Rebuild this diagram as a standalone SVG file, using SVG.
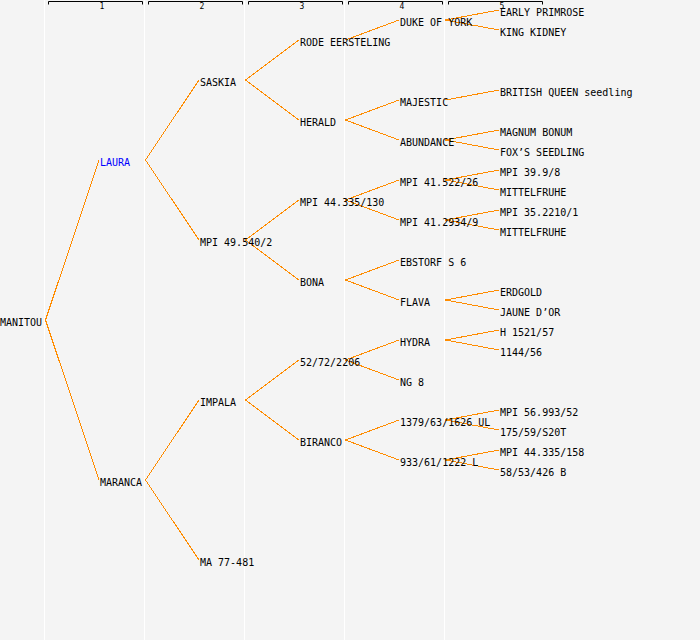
<svg xmlns="http://www.w3.org/2000/svg" width="700" height="640" viewBox="0 0 700 640">
<style>
.bg{fill:#f4f4f4}
.grid{stroke:#ffffff;stroke-width:1}
.br{fill:none;stroke:#000;stroke-width:1}
.hn{font-family:"DejaVu Sans Mono","Liberation Mono",monospace;font-size:8px;fill:#000;text-anchor:middle}
text.n{font-family:"DejaVu Sans Mono","Liberation Mono",monospace;font-size:10px;fill:#000}
text.blue{fill:#0000ff}
.c path{fill:none;stroke:#ff8c00;stroke-width:1;shape-rendering:crispEdges}
</style>
<rect class="bg" x="0" y="0" width="700" height="640"/>
<g id="grid">
<line class="grid" x1="44.5" y1="0" x2="44.5" y2="640"/>
<line class="grid" x1="144.5" y1="0" x2="144.5" y2="640"/>
<line class="grid" x1="244.5" y1="0" x2="244.5" y2="640"/>
<line class="grid" x1="344.5" y1="0" x2="344.5" y2="640"/>
<line class="grid" x1="444.5" y1="0" x2="444.5" y2="640"/>
</g>
<g id="header">
<path class="br" d="M48.5,4.5V1.5H142.5V4.5"/>
<path class="br" d="M148.5,4.5V1.5H242.5V4.5"/>
<path class="br" d="M248.5,4.5V1.5H342.5V4.5"/>
<path class="br" d="M348.5,4.5V1.5H442.5V4.5"/>
<path class="br" d="M448.5,4.5V1.5H542.5V4.5"/>
<text class="hn" x="102" y="8.5">1</text>
<text class="hn" x="202" y="8.5">2</text>
<text class="hn" x="302" y="8.5">3</text>
<text class="hn" x="402" y="8.5">4</text>
<text class="hn" x="502" y="8.5">5</text>
</g>
<g id="connectors" class="c">
<path d="M99,160L45.5,320L99,480"/>
<path d="M199,80L145.5,160L199,240"/>
<path d="M199,400L145.5,480L199,560"/>
<path d="M299,40L245.5,80L299,120"/>
<path d="M299,200L245.5,240L299,280"/>
<path d="M299,360L245.5,400L299,440"/>
<path d="M399,20L345.5,40"/>
<path d="M399,100L345.5,120L399,140"/>
<path d="M399,180L345.5,200L399,220"/>
<path d="M399,260L345.5,280L399,300"/>
<path d="M399,340L345.5,360L399,380"/>
<path d="M399,420L345.5,440L399,460"/>
<path d="M499,10L445.5,20L499,30"/>
<path d="M499,90L445.5,100"/>
<path d="M499,130L445.5,140L499,150"/>
<path d="M499,170L445.5,180L499,190"/>
<path d="M499,210L445.5,220L499,230"/>
<path d="M499,290L445.5,300L499,310"/>
<path d="M499,330L445.5,340L499,350"/>
<path d="M499,410L445.5,420L499,430"/>
<path d="M499,450L445.5,460L499,470"/>
</g>
<g id="n-manitou"><text class="n" x="0" y="326">MANITOU</text></g>
<g id="n-laura"><text class="n blue" x="100" y="166">LAURA</text></g>
<g id="n-maranca"><text class="n" x="100" y="486">MARANCA</text></g>
<g id="n-saskia"><text class="n" x="200" y="86">SASKIA</text></g>
<g id="n-mpi49540"><text class="n" x="200" y="246">MPI 49.540/2</text></g>
<g id="n-impala"><text class="n" x="200" y="406">IMPALA</text></g>
<g id="n-ma77481"><text class="n" x="200" y="566">MA 77-481</text></g>
<g id="n-rode"><text class="n" x="300" y="46">RODE EERSTELING</text></g>
<g id="n-herald"><text class="n" x="300" y="126">HERALD</text></g>
<g id="n-mpi44335"><text class="n" x="300" y="206">MPI 44.335/130</text></g>
<g id="n-bona"><text class="n" x="300" y="286">BONA</text></g>
<g id="n-527222"><text class="n" x="300" y="366">52/72/2206</text></g>
<g id="n-biranco"><text class="n" x="300" y="446">BIRANCO</text></g>
<g id="n-duke"><text class="n" x="400" y="26">DUKE OF YORK</text></g>
<g id="n-majestic"><text class="n" x="400" y="106">MAJESTIC</text></g>
<g id="n-abundance"><text class="n" x="400" y="146">ABUNDANCE</text></g>
<g id="n-mpi41522"><text class="n" x="400" y="186">MPI 41.522/26</text></g>
<g id="n-mpi412934"><text class="n" x="400" y="226">MPI 41.2934/9</text></g>
<g id="n-ebstorf"><text class="n" x="400" y="266">EBSTORF S 6</text></g>
<g id="n-flava"><text class="n" x="400" y="306">FLAVA</text></g>
<g id="n-hydra"><text class="n" x="400" y="346">HYDRA</text></g>
<g id="n-ng8"><text class="n" x="400" y="386">NG 8</text></g>
<g id="n-1379"><text class="n" x="400" y="426">1379/63/1626 UL</text></g>
<g id="n-933"><text class="n" x="400" y="466">933/61/1222 L</text></g>
<g id="n-early"><text class="n" x="500" y="16">EARLY PRIMROSE</text></g>
<g id="n-king"><text class="n" x="500" y="36">KING KIDNEY</text></g>
<g id="n-british"><text class="n" x="500" y="96">BRITISH QUEEN seedling</text></g>
<g id="n-magnum"><text class="n" x="500" y="136">MAGNUM BONUM</text></g>
<g id="n-fox"><text class="n" x="500" y="156">FOX’S SEEDLING</text></g>
<g id="n-mpi399"><text class="n" x="500" y="176">MPI 39.9/8</text></g>
<g id="n-mittel1"><text class="n" x="500" y="196">MITTELFRUHE</text></g>
<g id="n-mpi352210"><text class="n" x="500" y="216">MPI 35.2210/1</text></g>
<g id="n-mittel2"><text class="n" x="500" y="236">MITTELFRUHE</text></g>
<g id="n-erdgold"><text class="n" x="500" y="296">ERDGOLD</text></g>
<g id="n-jaune"><text class="n" x="500" y="316">JAUNE D’OR</text></g>
<g id="n-h1521"><text class="n" x="500" y="336">H 1521/57</text></g>
<g id="n-1144"><text class="n" x="500" y="356">1144/56</text></g>
<g id="n-mpi56993"><text class="n" x="500" y="416">MPI 56.993/52</text></g>
<g id="n-175"><text class="n" x="500" y="436">175/59/S20T</text></g>
<g id="n-mpi44335158"><text class="n" x="500" y="456">MPI 44.335/158</text></g>
<g id="n-58"><text class="n" x="500" y="476">58/53/426 B</text></g>
</svg>
